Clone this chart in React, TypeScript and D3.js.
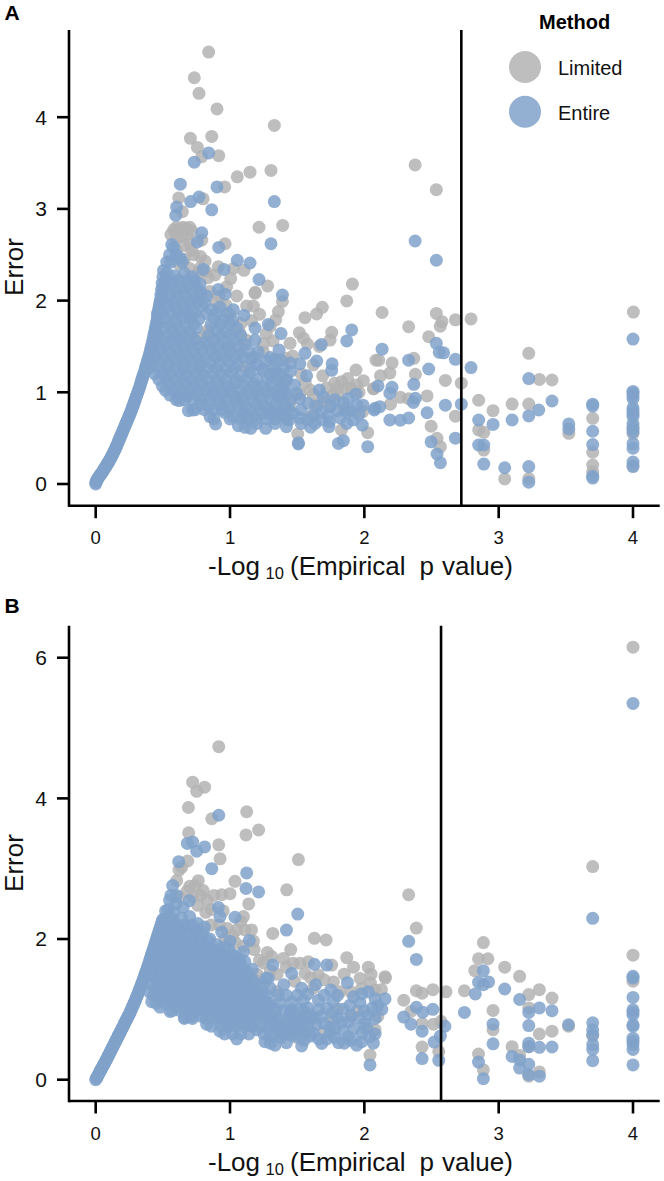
import React from "react";
import * as d3 from "d3";

type P = [number, number];

const xTicks = [0, 1, 2, 3, 4];
const yTicksA = [0, 1, 2, 3, 4];
const yTicksB = [0, 2, 4, 6];
const thresholdA = 2.722;
const thresholdB = 2.571;
const legendItems = ["Limited", "Entire"];

const curveA: P[] = [[0,0],[.002,.015],[.004,.03],[.008,.04],[.012,.05],[.016,.06],[.02,.07],[.025,.08],[.03,.09],[.035,.1],[.04,.11],[.045,.12],[.05,.13],[.055,.143],[.06,.155],[.065,.168],[.07,.18],[.075,.19],[.08,.2],[.085,.213],[.09,.225],[.095,.238],[.1,.25],[.105,.263],[.11,.275],[.115,.29],[.12,.305],[.125,.32],[.13,.335],[.135,.35],[.14,.365],[.145,.38],[.15,.395],[.155,.412],[.16,.43],[.165,.448],[.17,.465],[.175,.483],[.18,.5],[.185,.518],[.19,.535],[.195,.553],[.2,.57],[.205,.588],[.21,.605],[.215,.623],[.22,.64],[.225,.658],[.23,.675],[.235,.693],[.24,.71],[.245,.728],[.25,.745],[.255,.763],[.26,.78],[.265,.8],[.27,.82],[.275,.84],[.28,.86],[.285,.88],[.29,.9],[.295,.923],[.3,.945],[.305,.965],[.31,.985],[.315,1.005],[.32,1.025],[.325,1.048],[.33,1.07],[.335,1.095],[.34,1.12],[.345,1.143],[.35,1.165],[.355,1.188],[.36,1.21],[.365,1.235],[.37,1.26],[.375,1.285],[.38,1.31],[.385,1.335],[.39,1.36],[.395,1.385],[.4,1.41],[.405,1.44],[.41,1.47],[.415,1.5],[.42,1.53],[.425,1.565],[.43,1.6],[.435,1.635],[.44,1.67],[.445,1.705],[.45,1.74],[.455,1.78],[.46,1.82],[.465,1.86],[.47,1.9],[.475,1.95],[.48,2.0],[.485,2.06],[.49,2.12],[.495,2.19],[.5,2.26],[.505,2.33]];
const curveB: P[] = [[0,0],[.005,.018],[.01,.035],[.015,.053],[.02,.07],[.025,.09],[.03,.11],[.035,.128],[.04,.145],[.045,.163],[.05,.18],[.055,.198],[.06,.215],[.065,.233],[.07,.25],[.075,.268],[.08,.285],[.085,.305],[.09,.325],[.095,.343],[.1,.36],[.105,.38],[.11,.4],[.115,.42],[.12,.44],[.125,.458],[.13,.475],[.135,.495],[.14,.515],[.145,.533],[.15,.55],[.155,.57],[.16,.59],[.165,.61],[.17,.63],[.175,.648],[.18,.665],[.185,.685],[.19,.705],[.195,.723],[.2,.74],[.205,.76],[.21,.78],[.215,.8],[.22,.82],[.225,.838],[.23,.855],[.235,.875],[.24,.895],[.245,.913],[.25,.93],[.255,.953],[.26,.975],[.265,.998],[.27,1.02],[.275,1.04],[.28,1.06],[.285,1.083],[.29,1.105],[.295,1.128],[.3,1.15],[.305,1.175],[.31,1.2],[.315,1.225],[.32,1.25],[.325,1.275],[.33,1.3],[.335,1.325],[.34,1.35],[.345,1.375],[.35,1.4],[.355,1.428],[.36,1.455],[.365,1.483],[.37,1.51],[.375,1.538],[.38,1.565],[.385,1.593],[.39,1.62],[.395,1.65],[.4,1.68],[.405,1.71],[.41,1.74],[.415,1.77],[.42,1.8],[.425,1.83],[.43,1.86],[.435,1.89],[.44,1.92],[.445,1.95],[.45,1.98],[.455,2.01],[.46,2.04],[.465,2.07],[.47,2.1],[.475,2.13],[.48,2.16],[.485,2.19],[.49,2.22],[.495,2.25],[.5,2.28]];

const limitedA: P[] = [[.841,4.71],[.734,4.43],[.769,4.26],[.903,4.09],[1.33,3.91],[.705,3.77],[.864,3.79],[.757,3.67],[.79,3.57],[.916,3.58],[1.054,3.35],[1.149,3.4],[1.305,3.42],[.96,3.24],[.618,3.12],[.8,3.11],[.645,2.97],[1.216,2.8],[1.392,2.82],[.56,2.72],[.58,2.77],[.6,2.8],[.625,2.78],[.65,2.8],[.675,2.79],[.7,2.8],[.715,2.76],[.68,2.72],[.64,2.7],[.6,2.68],[.963,2.62],[.79,2.66],[.715,2.55],[.73,2.5],[.814,2.43],[.913,2.37],[.78,2.36],[1.025,2.35],[1.104,2.33],[.888,2.28],[.836,2.25],[1.005,2.24],[.975,2.15],[1.28,2.16],[1.188,2.09],[1.39,1.99],[1.186,2.08],[1.124,1.94],[1.174,1.94],[.97,1.95],[1.0,1.85],[1.36,1.88],[1.34,1.79],[1.687,1.927],[1.645,1.854],[1.558,1.814],[.84,1.68],[.878,1.59],[.777,1.59],[1.07,1.66],[1.12,1.57],[1.27,1.64],[1.32,1.56],[1.516,1.65],[1.546,1.59],[1.576,1.527],[1.447,1.534],[1.757,1.654],[1.745,1.57],[1.665,1.5],[1.248,1.44],[1.25,1.53],[1.417,1.37],[1.467,1.396],[2.087,1.35],[1.69,1.18],[1.83,1.116],[1.876,1.15],[1.993,1.127],[1.943,1.08],[1.869,1.04],[2.067,1.04],[1.762,.97],[1.596,1.025],[1.745,.843],[1.633,.86],[1.988,.79],[1.504,.545],[1.83,.59],[2.025,.56],[1.447,.88],[1.12,.716],[1.347,.77],[1.53,1.2],[1.2,1.06],[1.41,.81],[1.05,.93],[.777,1.3],[1.11,1.28],[.826,1.64],[1.869,1.996],[1.911,2.18],[2.378,3.48],[2.536,3.21],[4.003,1.875],[2.132,1.87],[2.33,1.715],[2.536,1.86],[2.578,1.77],[2.565,1.72],[2.678,1.79],[2.794,1.8],[2.479,1.606],[3.224,1.425],[2.107,1.35],[2.207,1.32],[2.368,1.37],[1.938,1.243],[2.12,1.18],[2.19,1.21],[2.38,1.196],[2.603,1.13],[2.722,1.1],[3.303,1.14],[3.397,1.134],[2.07,1.04],[2.268,.945],[2.33,.93],[2.467,.96],[2.194,.87],[2.851,.913],[3.1,.872],[3.224,.872],[2.958,.8],[2.678,.74],[2.497,.63],[2.851,.59],[2.889,.564],[2.541,.498],[2.566,.407],[2.889,.37],[3.522,.553],[3.7,.716],[3.7,.346],[3.7,.207],[3.7,.134],[3.045,.055],[3.224,.06],[4,.62],[4,.55],[4,.2],[1.62,1.3],[1.4,1.1],[1.3,1.2],[.9,1.4],[1.0,1.5],[.7,1.8],[.65,1.5],[.62,2.4],[.6,2.55],[.66,2.6],[.7,2.62],[.76,2.3],[.85,2.1],[.92,2.05],[1.05,2.05],[.66,2.45],[.7,2.35],[.82,2.32],[.9,1.98],[.78,2.48],[1.08,1.75],[1.16,1.78],[1.22,1.85],[1.3,1.72],[1.56,1.1],[1.52,.98],[1.62,.98],[1.72,1.05],[1.78,1.1],[1.8,1.05],[1.9,1.05],[1.96,1.0],[1.7,.9],[1.8,.98],[1.85,.82],[1.6,.74]];

const entireA: P[] = [[2.378,2.65],[2.536,2.44],[.841,3.61],[.734,3.51],[.63,3.27],[.903,3.24],[.769,3.13],[.707,3.08],[.603,3.02],[1.33,3.08],[.596,2.93],[.864,2.99],[.79,2.74],[.757,2.64],[1.305,2.62],[.916,2.58],[.566,2.61],[.58,2.58],[.55,2.5],[.6,2.5],[.63,2.46],[1.054,2.44],[1.149,2.41],[.8,2.34],[.955,2.34],[.529,2.42],[.645,2.42],[.56,2.42],[1.216,2.23],[1.39,2.06],[.913,2.12],[.963,2.07],[.777,2.18],[.827,2.05],
[.53,2.3],[.59,2.27],[.66,2.3],[.72,2.26],[.5,2.15],[.56,2.18],[.63,2.15],[.69,2.17],[.75,2.14],[.49,2.04],[.55,2.06],[.61,2.03],[.67,2.05],[.73,2.02],[.78,2.06],[.47,1.92],[.54,1.94],[.6,1.91],[.66,1.93],[.72,1.9],[.79,1.94],[.86,1.9],[.925,1.93],[1.025,1.9],[1.104,1.84],[.46,1.8],[.52,1.81],[.59,1.79],[.65,1.82],[.71,1.79],[.77,1.8],[.88,1.81],[.95,1.79],[1.02,1.78],[.45,1.68],[.51,1.7],[.57,1.67],[.63,1.69],[.7,1.66],[.75,1.7],[.9,1.68],[.97,1.66],[1.05,1.7],[.44,1.56],[.5,1.57],[.56,1.55],[.62,1.58],[.68,1.55],[.74,1.57],[.81,1.54],[.88,1.56],[.95,1.55],[1.03,1.57],[1.11,1.52],[1.186,1.57],[1.186,1.7],[1.285,1.74],[1.38,1.64],[.43,1.44],[.49,1.46],[.55,1.43],[.61,1.45],[.67,1.42],[.73,1.45],[.79,1.43],[.86,1.46],[.93,1.43],[1.0,1.45],[1.07,1.42],[1.14,1.45],[1.21,1.44],[1.365,1.46],[.42,1.32],[.48,1.33],[.54,1.31],[.6,1.34],[.66,1.31],[.72,1.33],[.78,1.3],[.85,1.33],[.92,1.31],[.99,1.34],[1.06,1.3],[1.16,1.37],[1.2,1.31],[1.27,1.34],[1.335,1.36],[.397,1.26],[.44,1.2],[.5,1.21],[.56,1.19],[.62,1.22],[.68,1.19],[.74,1.21],[.8,1.18],[.87,1.21],[.94,1.19],[1.01,1.22],[1.08,1.18],[1.15,1.21],[1.243,1.24],[1.3,1.19],[1.335,1.225],[1.37,1.2],[1.45,1.23],[.496,1.07],[.55,1.09],[.61,1.07],[.67,1.1],[.73,1.07],[.79,1.09],[.85,1.06],[.91,1.09],[.98,1.07],[1.04,1.1],[1.11,1.07],[1.18,1.09],[1.25,1.06],[1.32,1.09],[1.39,1.07],[.553,.97],[.62,.98],[.68,.96],[.74,.98],[.81,.95],[.88,.98],[.95,.96],[1.02,.99],[1.09,.95],[1.16,.98],[1.22,.96],[1.3,.99],[1.36,.95],[1.42,.98],[1.496,.99],[.623,.91],[.69,.8],[.722,.807],[.78,.87],[.84,.85],[.92,.87],[.99,.84],[1.06,.87],[1.12,.84],[1.2,.87],[1.27,.84],[1.34,.87],[1.41,.85],[.851,.735],[.893,.655],[.96,.78],[1.025,.735],[1.1,.76],[1.17,.74],[1.24,.77],[1.3,.75],[1.37,.76],[1.47,.77],[1.53,.81],[1.62,.75],[1.73,.75],[1.062,.636],[1.112,.618],[1.154,.607],[1.2,.66],[1.266,.607],[1.335,.66],[1.42,.625],[1.53,.66],[1.633,.66],[1.737,.625],[1.509,.436],[1.509,.45],
[1.42,1.13],[1.48,1.08],[1.38,1.0],[1.45,.92],[1.52,.93],[1.58,.88],[1.65,.85],[1.52,.72],[1.58,.7],[1.68,.78],[1.75,.85],[1.8,.8],[1.44,.7],[1.6,.62],[1.68,.7],[1.74,.68],[1.82,.72],[1.9,.8],[1.96,.76],[1.78,.92],[1.45,1.32],[1.38,1.35],[1.4,.74],
[1.906,1.68],[1.869,1.56],[1.68,1.52],[1.558,1.425],[1.645,1.34],[1.52,1.31],[1.76,1.31],[1.757,1.24],[1.57,1.18],[1.665,1.025],[1.695,.95],[1.938,.98],[1.844,.887],[1.88,.93],[1.943,.86],[1.99,.86],[2.08,.825],[1.869,.79],[1.869,.66],[1.918,.7],[1.985,.643],[1.807,.443],[1.844,.473],[2.025,.407],[2.132,1.47],[2.536,1.534],[2.558,1.436],[2.59,1.43],[2.33,1.35],[2.678,1.36],[2.794,1.27],[2.479,1.254],[3.224,1.15],[2.368,1.087],[2.102,1.07],[2.206,1.054],[2.19,.99],[2.38,.935],[2.365,.89],[2.603,.86],[2.722,.87],[3.397,.905],[2.115,.843],[2.074,.807],[2.467,.777],[3.298,.807],[3.224,.742],[2.19,.698],[2.268,.695],[2.33,.72],[2.851,.698],[2.958,.65],[3.1,.698],[3.522,.655],[3.522,.6],[3.7,.87],[3.7,.85],[3.7,.575],[3.7,.43],[3.7,.085],[3.7,.065],[2.678,.5],[2.497,.46],[2.541,.327],[2.566,.232],[2.851,.425],[2.889,.425],[2.889,.217],[3.045,.177],[3.224,.19],[3.224,.02],[4,1.58],[4,1.01],[4,.99],[4,.96],[4,.93],[4,.83],[4,.8],[4,.77],[4,.74],[4,.66],[4,.6],[4,.57],[4,.44],[4,.39],[4,.24],[4,.19]];

// more points of the solid mass of panel A, read as rows: [error, p values]
const massRowsA: [number, number[]][] = [
  [2.22,[.52,.57,.62,.68,.74]],
  [2.1,[.5,.56,.6,.66,.72,.78]],
  [1.98,[.48,.53,.58,.64,.7,.76,.81]],
  [1.86,[.46,.5,.56,.62,.68,.74,.82,.9,.98]],
  [1.74,[.46,.54,.6,.67,.73,.86,.93,1.0]],
  [1.62,[.47,.53,.59,.65,.71,.84,.93,1.0,1.08]],
  [1.5,[.47,.53,.59,.65,.71,.77,.84,.91,.98,1.06]],
  [1.38,[.45,.51,.57,.63,.69,.75,.82,.89,.96,1.03,1.1,1.18,1.3]],
  [1.26,[.47,.53,.59,.65,.71,.77,.83,.9,.97,1.03,1.15,1.24,1.32,1.4]],
  [1.14,[.47,.53,.59,.65,.71,.77,.83,.9,.97,1.04,1.12,1.2,1.28,1.35,1.42]],
  [1.02,[.52,.58,.64,.7,.76,.82,.88,.94,1.0,1.07,1.14,1.2,1.27,1.34,1.4]],
  [.92,[.6,.66,.72,.78,.85,.91,.97,1.04,1.1,1.17,1.24,1.3,1.38]],
  [.81,[.74,.81,.88,.94,1.0,1.08,1.15,1.22,1.29,1.36,1.44]],
  [.71,[.88,1.0,1.08,1.14,1.2,1.28,1.34,1.42]],
];

const limitedB: P[] = [[4,6.15],[.916,4.735],[.722,4.23],[.811,4.16],[.752,4.1],[.69,3.87],[1.124,3.81],[.864,3.71],[1.213,3.55],[1.119,3.48],[.692,3.51],[.916,3.34],[.926,3.14],[1.509,3.13],[.685,3.11],[.64,3.02],[.62,2.98],[1.037,2.82],[.603,2.83],[.764,2.83],[.7,2.75],[.74,2.76],[.8,2.69],[.78,2.62],[.62,2.6],[.72,2.6],[.83,2.55],[.86,2.42],[1.422,2.7],[1.139,2.5],[.938,2.63],[1.0,2.645],[1.1,2.32],[1.05,2.13],[1.11,2.13],[1.16,2.13],[1.174,1.97],[1.318,2.08],[1.452,1.85],[1.628,2.01],[1.715,1.986],[1.278,1.81],[1.31,1.75],[1.397,1.725],[1.47,1.654],[1.52,1.654],[1.583,1.678],[1.757,1.63],[1.869,1.735],[2.03,1.6],[1.968,1.44],[2.154,1.465],[1.77,1.39],[1.658,1.49],[1.558,1.51],[1.186,1.42],[2.08,1.275],[1.82,1.25],[2.042,.35],[2.005,.73],[2.08,.71],[1.906,.9],[1.757,.87],[1.32,.92],[1.447,.94],[.92,2.2],[.98,2.15],[1.02,2.05],[.86,2.2],[1.25,1.66],[1.3,1.55],[1.2,1.5],[1.25,1.35],[1.35,1.25],[1.12,1.1],[.97,1.3],[.86,1.35],[.78,1.6],[3.7,3.03],[2.33,2.63],[2.387,2.156],[2.886,1.95],[2.85,1.72],[2.92,1.72],[2.822,1.55],[3.045,1.6],[3.156,1.47],[3.224,1.21],[3.303,1.28],[3.397,1.16],[2.745,1.265],[2.608,1.25],[2.51,1.28],[2.43,1.23],[2.387,1.265],[2.293,1.13],[2.958,.985],[2.958,.71],[3.224,1.02],[3.303,.65],[3.397,.69],[3.1,.47],[3.156,.345],[3.224,.47],[2.85,.365],[2.886,.14],[3.303,.11],[3.224,.05],[3.52,.76],[3.7,.62],[4,1.77],[4,1.4],[2.43,.465],[2.554,.4],[2.515,.79],[2.57,.83],[2.347,.97],[2.43,.8],[2.157,1.445],[2.045,1.375],[2.127,1.28],[.96,2.0],[1.04,1.95],[1.1,1.9],[1.18,1.85],[1.22,1.7],[1.08,2.25],[.95,2.4],[.88,2.62],[.68,2.68],[.76,2.48],[.82,2.38],[1.35,1.5],[1.42,1.6],[1.6,1.45],[1.7,1.42],[1.85,1.5],[1.92,1.6],[1.98,1.3],[2.05,1.5],[1.9,1.25],[1.62,1.3],[1.48,1.4],[1.8,1.0],[1.95,.98],[2.1,.9],[1.7,.68],[1.3,1.02],[1.5,.6]];

const entireB: P[] = [[4,5.35],[3.7,2.295],[.916,3.76],[.722,3.38],[.682,3.36],[.811,3.31],[.752,3.25],[.618,3.1],[.864,3.0],[1.124,2.94],[1.119,2.72],[1.213,2.67],[.573,2.76],[1.504,2.355],[1.42,2.128],[.913,2.45],[.925,2.32],[1.037,2.31],[.697,2.545],[.938,2.1],[1.144,1.98],[1.0,1.97],[1.1,1.82],[1.166,1.57],[1.318,1.63],[1.459,1.51],[1.628,1.64],[1.72,1.63],[1.27,1.445],
[.55,2.55],[.54,2.42],[.6,2.5],[.65,2.45],[.58,2.38],[.52,2.4],[.56,2.62],[.6,2.62],[.56,2.3],[.52,2.28],[.58,2.26],[.64,2.3],[.7,2.32],[.76,2.22],[.51,2.15],[.57,2.16],[.63,2.13],[.69,2.18],[.75,2.12],[.81,2.17],[.49,2.03],[.55,2.05],[.61,2.02],[.67,2.04],[.73,2.01],[.79,2.05],[.85,2.0],[.47,1.91],[.53,1.93],[.59,1.9],[.65,1.92],[.71,1.89],[.77,1.93],[.83,1.88],[.9,1.92],[.96,1.88],[.46,1.8],[.52,1.81],[.58,1.78],[.64,1.8],[.7,1.77],[.76,1.81],[.82,1.78],[.88,1.8],[.94,1.77],[1.02,1.78],[1.07,1.72],[.45,1.69],[.51,1.7],[.57,1.67],[.63,1.69],[.69,1.66],[.75,1.7],[.81,1.67],[.87,1.69],[.93,1.66],[.99,1.69],[1.05,1.66],[1.11,1.68],[.44,1.58],[.5,1.59],[.56,1.56],[.62,1.58],[.68,1.55],[.74,1.59],[.8,1.56],[.86,1.58],[.92,1.55],[.98,1.58],[1.04,1.55],[1.1,1.57],[.42,1.47],[.48,1.48],[.54,1.45],[.6,1.47],[.66,1.44],[.72,1.48],[.78,1.45],[.84,1.47],[.9,1.44],[.96,1.47],[1.02,1.44],[1.08,1.46],[1.14,1.43],[.41,1.36],[.47,1.37],[.53,1.34],[.59,1.36],[.65,1.33],[.71,1.37],[.77,1.34],[.83,1.36],[.89,1.33],[.95,1.36],[1.01,1.33],[1.07,1.35],[1.13,1.32],[1.2,1.36],[1.285,1.44],[1.4,1.35],[1.533,1.3],[1.638,1.35],[1.75,1.275],[1.874,1.38],[2.03,1.25],[2.154,1.15],[.4,1.25],[.46,1.26],[.52,1.23],[.58,1.25],[.64,1.22],[.7,1.26],[.76,1.23],[.82,1.25],[.88,1.22],[.94,1.25],[1.0,1.22],[1.06,1.24],[1.12,1.21],[1.18,1.25],[1.24,1.22],[1.3,1.3],[.417,1.11],[.479,1.03],[.48,1.15],[.54,1.12],[.6,1.14],[.66,1.11],[.72,1.15],[.78,1.12],[.84,1.14],[.9,1.11],[.96,1.14],[1.02,1.11],[1.08,1.13],[1.14,1.1],[1.2,1.14],[1.26,1.11],[1.372,1.085],[1.459,1.11],[1.546,1.13],[1.658,1.13],[1.77,1.11],[1.893,1.06],[1.968,1.095],[.553,.97],[.6,1.03],[.665,.886],[.715,.9],[.66,1.0],[.72,1.03],[.78,1.0],[.84,1.03],[.9,1.0],[.96,1.03],[1.02,1.0],[1.08,1.02],[1.14,.99],[1.2,1.03],[1.26,.98],[1.4,.98],[1.52,1.0],[1.58,1.02],[1.66,1.0],[1.72,1.02],[1.84,1.0],[2.03,.92],[2.13,1.0],[2.08,.87],[.826,.79],[.79,.9],[.86,.92],[.92,.89],[.98,.92],[1.04,.89],[1.1,.91],[1.16,.88],[1.22,.92],[1.28,.89],[1.34,.9],[1.44,.9],[1.5,.86],[1.56,.89],[1.63,.88],[1.88,.825],[1.83,.82],[.925,.69],[.96,.8],[1.02,.78],[1.08,.8],[1.14,.77],[1.2,.71],[1.28,.74],[1.335,.78],[1.4,.72],[1.459,.706],[1.52,.8],[1.58,.75],[1.62,.66],[1.745,.75],[1.745,.66],[1.88,.61],[2.04,.61],[1.05,.58],[1.26,.54],[1.3,.62],[1.335,.49],[1.38,.6],[1.42,.526],[1.47,.62],[1.533,.48],[1.6,.62],[1.683,.516],[1.807,.526],[1.943,.49],[2.067,.52],[2.042,.21],
[1.3,1.05],[1.36,1.2],[1.42,1.2],[1.5,1.2],[1.58,1.22],[1.7,1.2],[1.8,1.2],[1.92,1.18],[1.98,1.22],[2.08,1.15],[2.1,1.05],[1.34,1.0],[1.46,1.0],[1.6,.92],[1.68,.9],[1.76,.95],[1.8,.88],[1.9,.92],[1.96,.88],[2.0,.98],[2.06,1.02],[1.36,.84],[1.42,.82],[1.54,.7],[1.64,.78],[1.7,.8],[1.78,.72],[1.84,.7],[1.92,.72],[1.98,.66],[2.02,.74],[2.08,.65],[1.72,.58],[1.78,.6],[1.85,.52],[1.9,.56],[1.98,.54],[2.0,.8],[1.55,.56],[1.66,.58],[1.3,.52],[1.4,.66],
[2.33,1.967],[2.387,1.71],[2.886,1.55],[2.85,1.384],[2.886,1.35],[2.925,1.39],[2.826,1.22],[2.745,.957],[3.045,1.29],[3.156,1.14],[3.303,1.02],[3.397,.98],[3.224,.957],[3.224,.77],[2.958,.79],[2.958,.51],[3.52,.78],[3.7,.81],[3.7,.71],[3.7,.64],[3.7,.5],[3.7,.43],[3.7,.27],[4,1.445],[4,1.47],[4,1.17],[4,.995],[4,.96],[4,.925],[4,.78],[4,.76],[4,.59],[4,.545],[4,.5],[4,.43],[4,.21],[3.224,.52],[3.303,.46],[3.397,.465],[3.224,.47],[3.1,.33],[3.156,.28],[3.224,.22],[3.156,.165],[3.224,.07],[3.303,.05],[2.85,.25],[2.886,.015],[2.6,.76],[2.566,.62],[2.52,.535],[2.554,.275],[2.43,.3],[2.43,.69],[2.435,.96],[2.51,1.0],[2.387,1.03],[2.347,.79],[2.293,.89]];

// more points of the solid mass of panel B, read as rows: [error, p values]
const massRowsB: [number, number[]][] = [
  [2.2,[.53,.6,.66,.72]],
  [2.09,[.5,.56,.62,.68,.74,.8]],
  [1.97,[.48,.54,.6,.66,.72,.78,.84]],
  [1.86,[.46,.5,.56,.62,.68,.74,.8,.86,.92,.99]],
  [1.75,[.47,.55,.61,.67,.73,.79,.85,.91,.97,1.04]],
  [1.64,[.46,.54,.6,.66,.72,.78,.84,.9,.96,1.02,1.08]],
  [1.53,[.47,.53,.59,.65,.71,.77,.83,.89,.95,1.01,1.07,1.13]],
  [1.42,[.45,.51,.57,.63,.69,.75,.81,.87,.93,.99,1.05,1.11,1.17]],
  [1.31,[.44,.5,.56,.62,.68,.74,.8,.86,.92,.98,1.04,1.1,1.16,1.23]],
  [1.2,[.43,.49,.55,.61,.67,.73,.79,.85,.91,.97,1.03,1.09,1.15,1.21,1.27]],
  [1.09,[.45,.51,.57,.63,.69,.75,.81,.87,.93,.99,1.05,1.11,1.17,1.23,1.29]],
  [.98,[.57,.63,.69,.75,.81,.87,.93,.99,1.05,1.11,1.17,1.23,1.45,1.55]],
  [.87,[.66,.72,.82,.89,.95,1.01,1.07,1.13,1.19,1.25,1.31,1.47,1.53,1.6]],
  [.76,[.86,.93,.99,1.05,1.11,1.17,1.23,1.3,1.37,1.43,1.49,1.55]],
  [.65,[.96,1.02,1.08,1.14,1.25,1.32,1.38,1.44,1.5,1.56]],
];

const colLimited = "#b3b3b3";
const colEntire = "#80a2ca";
const fontFamily = "'Liberation Sans', Arial, sans-serif";
const xS = d3.scaleLinear().domain([0, 4]).range([95.7, 633]);
const fromRows = (rows: [number, number[]][]): P[] => rows.flatMap(([y, xs]) => xs.map((x) => [x, y] as P));

function Panel({ tag, tagY, yZero, yUnit, top, axisY, yTicks, threshold, limited, entire, curve, rows, titleY }: any) {
  const yS = d3.scaleLinear().domain([0, 1]).range([yZero, yZero - yUnit]);
  const blue: P[] = [...curve, ...fromRows(rows), ...entire];
  return (
    <g fontFamily={fontFamily} fill="#111">
      <text x={4.5} y={tagY} fontSize={21} fontWeight="bold" fill="#000">{tag}</text>
      {limited.map((p: P, i: number) => <circle key={"l" + i} cx={xS(p[0])} cy={yS(p[1])} r={6.5} fill={colLimited} fillOpacity={0.85} />)}
      {blue.map((p: P, i: number) => <circle key={"e" + i} cx={xS(p[0])} cy={yS(p[1])} r={6.5} fill={colEntire} fillOpacity={0.85} />)}
      <line x1={xS(threshold)} x2={xS(threshold)} y1={top} y2={axisY} stroke="#000" strokeWidth={2.6} />
      <line x1={69} x2={69} y1={top} y2={axisY + 1.3} stroke="#000" strokeWidth={2.6} />
      <line x1={69} x2={659.7} y1={axisY} y2={axisY} stroke="#000" strokeWidth={2.6} />
      {yTicks.map((t: number) => (
        <g key={t}>
          <line x1={57} x2={69} y1={yS(t)} y2={yS(t)} stroke="#000" strokeWidth={2.6} />
          <text x={47} y={yS(t) + 7.4} fontSize={21} textAnchor="end">{t}</text>
        </g>
      ))}
      {xTicks.map((t) => (
        <g key={t}>
          <line x1={xS(t)} x2={xS(t)} y1={axisY} y2={axisY + 12.5} stroke="#000" strokeWidth={2.6} />
          <text x={xS(t)} y={axisY + 38.5} fontSize={18.5} textAnchor="middle">{t}</text>
        </g>
      ))}
      <text transform={`translate(23,${titleY}) rotate(-90)`} fontSize={26} textAnchor="middle">Error</text>
      <text x={208} y={axisY + 69.5} fontSize={26}>-Log</text>
      <text x={265.5} y={axisY + 73.5} fontSize={16.5}>10</text>
      <text x={290} y={axisY + 69.5} fontSize={26}>(Empirical</text>
      <text x={419.5} y={axisY + 69.5} fontSize={26}>p</text>
      <text x={442} y={axisY + 69.5} fontSize={26}>value)</text>
    </g>
  );
}

export default function App() {
  return (
    <svg width={664} height={1181} style={{ position: "absolute", left: 0, top: 0, display: "block" }}>
      <rect width={664} height={1181} fill="#fff" />
      <Panel tag="A" tagY={19.5} yZero={484} yUnit={91.7} top={30} axisY={505.7} yTicks={yTicksA} threshold={thresholdA} limited={limitedA} entire={entireA} curve={curveA} rows={massRowsA} titleY={267} />
      <Panel tag="B" tagY={612.7} yZero={1079.7} yUnit={70.33} top={625.7} axisY={1101} yTicks={yTicksB} threshold={thresholdB} limited={limitedB} entire={entireB} curve={curveB} rows={massRowsB} titleY={863} />
      <g fontFamily={fontFamily}>
        <text x={539} y={29} fontSize={20} fontWeight="bold" fill="#000">Method</text>
        {legendItems.map((name, i) => (
          <g key={name}>
            <circle cx={525} cy={67 + i * 44.7} r={16} fill={i === 0 ? colLimited : colEntire} fillOpacity={0.85} />
            <text x={558} y={75 + i * 44.5} fontSize={20} fill="#111">{name}</text>
          </g>
        ))}
      </g>
    </svg>
  );
}
